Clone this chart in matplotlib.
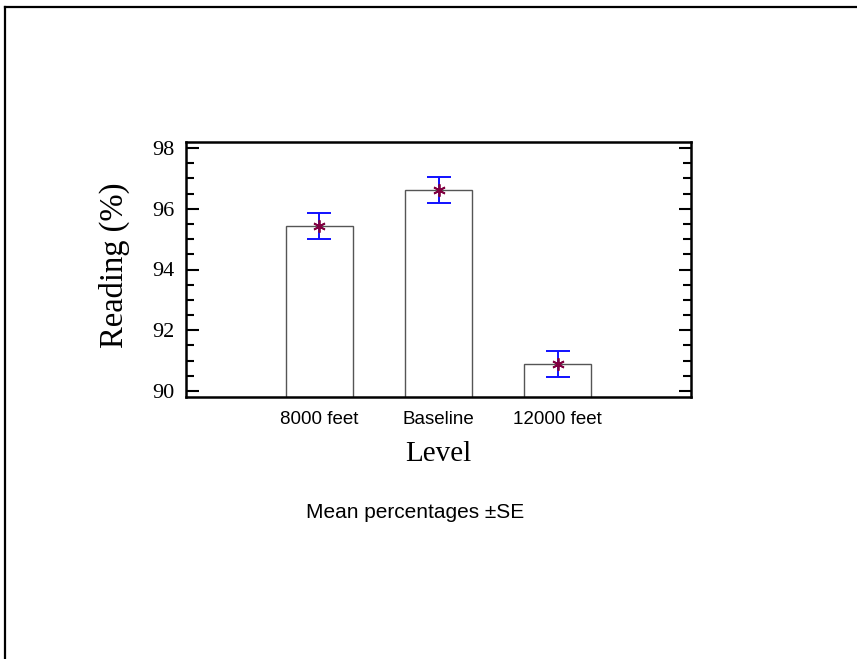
import matplotlib

matplotlib.use("Agg")
import matplotlib.pyplot as plt
from matplotlib.lines import Line2D
from matplotlib.ticker import MultipleLocator

# Du lieu doc tu hinh goc
levels = ["8000 feet", "Baseline", "12000 feet"]
means = [95.43, 96.62, 90.90]
se = [0.43, 0.43, 0.43]

SERIF = "Liberation Serif"
SANS = "Liberation Sans"

fig = plt.figure(figsize=(8.57, 6.59), dpi=100)

# Khung ngoai: chi co canh tren va canh trai
fig.add_artist(Line2D([5 / 857, 1.0], [1 - 7 / 659, 1 - 7 / 659], color="black", lw=1.6))
fig.add_artist(Line2D([5 / 857, 5 / 857], [0.0, 1 - 7 / 659], color="black", lw=1.6))

ax = fig.add_axes([186 / 857, 1 - 397 / 659, 505 / 857, 255 / 659])
x = list(range(len(levels)))

ax.bar(x, means, width=0.56, color="white", edgecolor="#555555", linewidth=1.0, zorder=2)
ax.errorbar(x, means, yerr=se, fmt="none", ecolor="#1010ff", elinewidth=1.4,
            capsize=8.6, capthick=1.4, zorder=3)
ax.plot(x, means, linestyle="none", marker=(6, 2, 0), markersize=9,
        markeredgecolor="#800040", markeredgewidth=1.3, zorder=4)

ax.set_xlim(-1.12, 3.12)
ax.set_ylim(89.8, 98.2)
ax.yaxis.set_major_locator(MultipleLocator(2))
ax.yaxis.set_minor_locator(MultipleLocator(0.5))
ax.set_xticks(x)
ax.set_xticklabels(levels, fontfamily=SANS, fontsize=13.5)
ax.tick_params(axis="x", length=0, pad=10)
ax.tick_params(axis="y", which="both", direction="in", right=True, width=1.5)
ax.tick_params(axis="y", which="major", length=9, labelsize=16, pad=8)
ax.tick_params(axis="y", which="minor", length=6)
for lab in ax.get_yticklabels():
    lab.set_fontfamily(SERIF)
for sp in ax.spines.values():
    sp.set_linewidth(1.8)

ax.set_ylabel("Reading (%)", fontfamily=SERIF, fontsize=23.5)
ax.yaxis.set_label_coords(-0.111, 0.518)
ax.set_xlabel("Level", fontfamily=SERIF, fontsize=21)
ax.xaxis.set_label_coords(0.5, -0.172)

fig.text(415 / 857, 1 - 512 / 659, "Mean percentages \u00b1SE", fontfamily=SANS,
         fontsize=15, ha="center", va="center")

fig.savefig("out.png", dpi=100)
